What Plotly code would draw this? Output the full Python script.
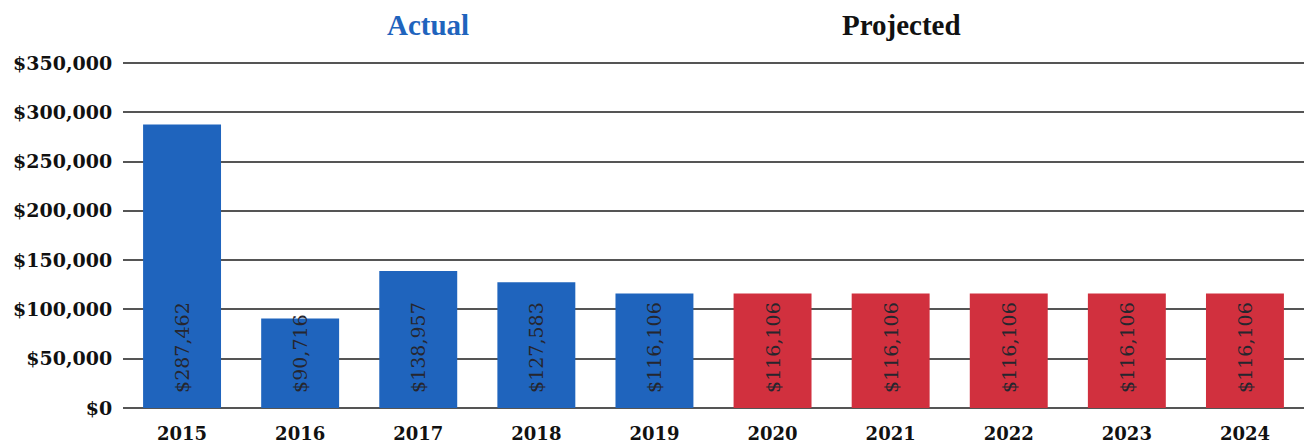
import plotly.graph_objects as go

years = ["2015", "2016", "2017", "2018", "2019", "2020", "2021", "2022", "2023", "2024"]
amounts = [287462, 90716, 138957, 127583, 116106, 116106, 116106, 116106, 116106, 116106]
kinds = ["Actual"] * 5 + ["Projected"] * 5

colors = {"Actual": "#1f64bd", "Projected": "#d1303e"}
bar_colors = [colors[k] for k in kinds]
labels = ["\u00a0\u00a0${:,}".format(v) for v in amounts]

fig = go.Figure(
    go.Bar(
        x=years,
        y=amounts,
        marker=dict(color=bar_colors, line=dict(width=0)),
        text=labels,
        textposition="inside",
        insidetextanchor="start",
        constraintext="none",
        textangle=-90,
        textfont=dict(family="DejaVu Serif", size=19, color="#26262e"),
        hoverinfo="skip",
        cliponaxis=False,
    )
)

fig.update_layout(
    width=1304,
    height=445,
    margin=dict(l=123, r=0, t=58, b=37),
    paper_bgcolor="white",
    plot_bgcolor="white",
    bargap=0.34,
    showlegend=False,
    annotations=[
        dict(text="<b>Actual</b>", x=0.258, y=1.095, xref="paper", yref="paper",
             showarrow=False, xanchor="center", yanchor="middle",
             font=dict(family="Liberation Serif", size=29, color="#1f64bd")),
        dict(text="<b>Projected</b>", x=0.659, y=1.095, xref="paper", yref="paper",
             showarrow=False, xanchor="center", yanchor="middle",
             font=dict(family="Liberation Serif", size=29, color="#111111")),
    ],
)

fig.update_xaxes(
    automargin=False,
    showgrid=False,
    showline=False,
    ticks="outside",
    ticklen=9,
    tickcolor="rgba(0,0,0,0)",
    tickfont=dict(family="DejaVu Serif", size=18, color="#111111", weight="bold"),
)

fig.update_yaxes(
    automargin=False,
    range=[0, 355000],
    tickvals=[0, 50000, 100000, 150000, 200000, 250000, 300000, 350000],
    ticktext=["$0", "$50,000", "$100,000", "$150,000", "$200,000",
              "$250,000", "$300,000", "$350,000"],
    showgrid=True,
    gridcolor="#555555",
    gridwidth=1.5,
    zeroline=True,
    zerolinecolor="#555555",
    zerolinewidth=1.5,
    ticks="outside",
    ticklen=6,
    tickcolor="rgba(0,0,0,0)",
    tickfont=dict(family="DejaVu Serif", size=19, color="#111111", weight="bold"),
)

fig.write_html("out.html")
